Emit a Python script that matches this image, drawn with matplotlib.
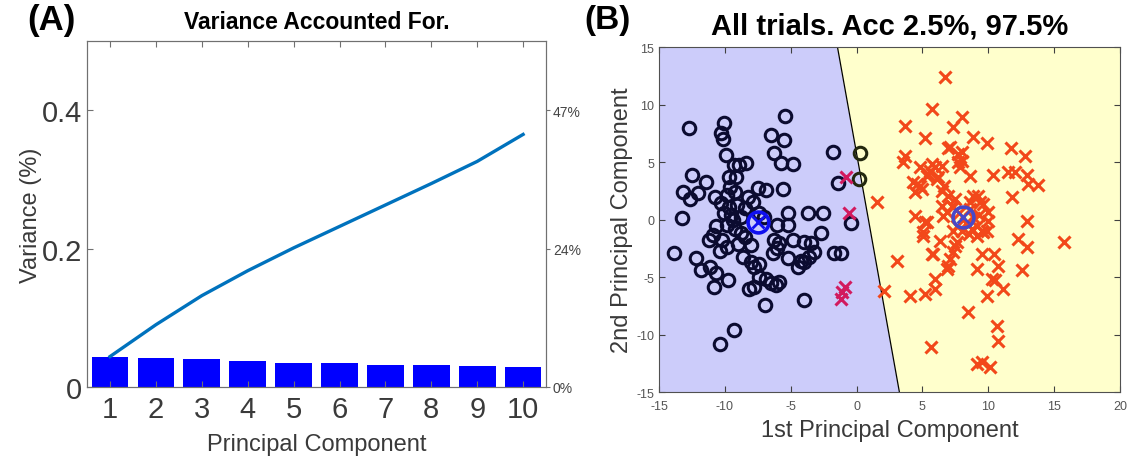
import numpy as np
import matplotlib
matplotlib.use("Agg")
import matplotlib.pyplot as plt

plt.rcParams["font.family"] = ["Liberation Sans", "DejaVu Sans"]
plt.rcParams["axes.unicode_minus"] = False

# Panel A: variance per principal component
components = [1, 2, 3, 4, 5, 6, 7, 8, 9, 10]
variance = [0.043, 0.042, 0.040, 0.037, 0.034, 0.034, 0.032, 0.032, 0.030, 0.029]
cumulative = [0.044, 0.090, 0.132, 0.168, 0.201, 0.232, 0.263, 0.294, 0.326, 0.365]
right_ticks = [0, 0.2, 0.4]
right_labels = ["0%", "24%", "47%"]

# Panel B: projections on first two PCs
circles = [
    (-12.72, 7.94), (-10.05, 8.38), (-10.3, 7.5), (-10.13, 6.98), (-9.92, 5.62), (-9.29, 4.75),
    (-8.4, 4.9), (-8.9, 4.7), (-9.67, 3.73), (-9.16, 3.67), (-12.46, 3.88), (-11.45, 3.3),
    (-13.15, 2.42), (-12.64, 1.76), (-12.03, 2.28), (-10.76, 1.99), (-9.6, 2.86), (-9.24, 2.42),
    (-9.8, 2.13), (-13.22, 0.1), (-13.86, -2.89), (-12.2, -3.38), (-11.8, -4.4), (-11.14, -4.11),
    (-10.68, -4.69), (-10.8, -5.85), (-9.75, -5.27), (-8.15, -6.0), (-9.34, -9.63), (-10.36, -10.8),
    (-7.5, 2.7), (-6.88, 2.57), (-5.6, 2.63), (-6.5, 7.36), (-5.48, 6.93), (-5.43, 9.0),
    (-6.24, 5.76), (-5.74, 4.9), (-4.85, 4.83), (-1.8, 5.9), (-1.42, 3.15), (-5.23, 0.54),
    (-3.7, 0.54), (-2.56, 0.54), (-0.46, -0.34), (-6.04, -0.48), (-5.23, -0.48), (-2.69, -1.2),
    (-4.85, -1.79), (-3.96, -1.93), (-3.45, -2.08), (-3.2, -2.8), (-6.04, -2.51), (-6.37, -2.95),
    (-5.23, -3.38), (-4.47, -4.11), (-3.96, -3.67), (-3.58, -3.24), (-1.68, -2.95), (-1.17, -2.95),
    (-3.96, -7.0), (-6.95, -7.45), (-7.77, -5.85), (-7.39, -4.98), (-6.88, -5.2), (-6.5, -5.56),
    (-6.12, -5.7), (-7.77, -4.11), (-8.0, -3.7), (-7.39, -3.88), (-8.65, -3.24), (-8.0, -2.2),
    (-8.5, -1.5), (-9.2, -0.8), (-9.8, -0.5), (-9.4, -0.05), (-10.7, -0.6), (-10.9, -1.35),
    (-11.2, -1.8), (-10.2, -1.8), (-10.4, -2.7), (-9.8, -2.4), (-9.0, -2.1), (-8.8, -1.2),
    (-9.67, 1.12), (-9.04, 1.26), (-8.5, 0.97), (-7.9, 1.55), (-10.05, 0.54), (-9.5, 0.4),
    (-8.8, 0.25), (-8.27, 1.99), (-10.3, 1.4), (-7.4, 0.54), (-7.0, 0.25), (-6.24, -1.79),
    (-5.86, -2.08), (-4.2, -3.6), (-5.9, -5.4),
]
stray_circles = [(0.23, 5.76), (0.15, 3.5)]
crosses = [
    (6.7, 12.37), (5.7, 9.6), (7.98, 8.89), (7.35, 8.02), (3.68, 8.1), (5.2, 7.06), (8.87, 7.15),
    (6.97, 6.19), (7.98, 5.85), (3.68, 5.55), (3.55, 4.97), (7.73, 4.97), (8.61, 3.82),
    (5.96, 4.54), (6.46, 4.68), (5.45, 3.96), (6.2, 3.67), (4.56, 3.09), (4.94, 2.66),
    (4.44, 2.37), (6.6, 2.95), (6.97, 2.08), (1.53, 1.5), (4.44, 0.34), (5.2, -0.24),
    (5.07, -1.11), (6.46, 1.21), (7.22, 1.21), (7.47, 1.79), (8.87, 2.08), (5.7, -3.0),
    (6.33, -1.83), (6.97, -4.01), (7.35, -2.85), (7.47, -2.27), (3.04, -3.58), (2.11, -6.18),
    (4.06, -6.62), (5.2, -6.47), (5.96, -6.04), (5.96, -5.17), (8.49, -8.07), (5.65, -11.1),
    (9.12, -12.56), (9.89, 6.63), (11.73, 6.19), (12.8, 5.55), (10.32, 3.87), (11.53, 4.16),
    (12.04, 4.16), (12.92, 3.87), (13.05, 3.09), (13.8, 3.0), (11.78, 1.99), (12.92, -0.1),
    (12.29, -1.69), (12.92, -2.42), (15.78, -1.92), (12.54, -4.36), (9.25, 2.08), (9.38, 1.5),
    (10.0, -0.1), (9.5, -0.97), (9.13, -1.4), (10.4, -3.0), (9.5, -3.0), (10.77, -4.01),
    (10.27, -5.17), (10.5, -5.3), (11.15, -6.04), (9.89, -6.68), (10.65, -9.23), (10.77, -10.53),
    (9.5, -12.41), (10.14, -12.85), (9.13, -4.3), (8.6, 1.5), (9.63, 1.35), (10.0, 0.63),
    (9.12, -0.53), (9.63, -1.11), (9.88, -0.97), (8.74, -0.82), (7.6, -0.53), (7.35, -0.97),
    (6.84, 0.63), (6.59, 0.34), (6.46, 2.51), (7.35, 1.06), (7.6, -1.98), (7.1, -3.43),
    (6.84, -4.3), (5.83, -3.0), (5.32, -0.24), (5.07, -1.4), (4.82, 4.54), (5.7, 4.83),
    (5.58, 4.25), (4.31, 3.24), (4.82, 2.95), (5.32, 3.82), (6.08, 3.53), (7.73, 5.7),
    (7.98, 5.12), (7.85, 4.54), (7.1, 6.28), (8.3, -0.3), (8.9, 0.1), (8.0, -1.0), (8.5, -1.3),
    (9.3, 0.4), (7.8, 0.6), (8.6, 0.9),
]
missed_crosses = [(-0.79, 3.73), (-0.6, 0.54), (-0.86, -5.85), (-1.1, -6.3), (-1.17, -6.87)]
centroids = [(-7.5, -0.2), (8.1, 0.2)]
boundary_x = [-1.45, 3.25]
boundary_y = [15, -15]

fig = plt.figure(figsize=(11.35, 4.64), dpi=100)

# ---- (A) ----
ax = fig.add_axes([0.0767, 0.1638, 0.4044, 0.7457])
ax.bar(components, variance, width=0.8, color="#0000ff")
ax.plot(components, cumulative, color="#0072bd", lw=2.4)
ax.set_xlim(0.5, 10.5)
ax.set_ylim(0, 0.5)
ax.set_xticks(components)
ax.set_yticks([0, 0.2, 0.4])
ax.set_yticklabels(["0", "0.2", "0.4"])
ax.tick_params(axis="both", direction="in", length=4, colors="#3a3a3a",
               labelsize=21, top=True, color="#707070")
ax.tick_params(axis="x", pad=6)
for s in ax.spines.values():
    s.set_color("#707070")
ax.set_xlabel("Principal Component", fontsize=17, color="#3a3a3a", labelpad=7)
ax.set_ylabel("Variance (%)", fontsize=17, color="#3a3a3a", labelpad=0)
ax.set_title("Variance Accounted For.", fontsize=16.5, fontweight="bold", pad=9)

ax2 = ax.twinx()
ax2.set_ylim(0, 0.5)
ax2.set_yticks(right_ticks)
ax2.set_yticklabels(right_labels)
ax2.tick_params(axis="y", direction="out", length=3, labelsize=10,
                colors="#444444", color="#707070", pad=2)
for s in ax2.spines.values():
    s.set_color("#707070")

fig.text(0.024, 0.955, "(A)", fontsize=25, fontweight="bold", va="center")

# ---- (B) ----
bx = fig.add_axes([0.5806, 0.1530, 0.4062, 0.7435])
bx.set_xlim(-15, 20)
bx.set_ylim(-15, 15)
bx.fill([-15, boundary_x[0], boundary_x[1], -15], [15, 15, -15, -15],
        color="#ccccfa", lw=0, zorder=0)
bx.fill([boundary_x[0], 20, 20, boundary_x[1]], [15, 15, -15, -15],
        color="#ffffcc", lw=0, zorder=0)
bx.plot(boundary_x, boundary_y, color="black", lw=0.9, zorder=1)

cx, cy = zip(*circles)
bx.plot(cx, cy, "o", ms=9, mfc="none", mec="#0b0b30", mew=2.2, zorder=2)
sx, sy = zip(*stray_circles)
bx.plot(sx, sy, "o", ms=9, mfc="none", mec="#23280f", mew=2.2, zorder=2)
xx, xy = zip(*crosses)
bx.plot(xx, xy, "x", ms=9, mec="#f2481a", mew=2.2, zorder=2)
mx, my = zip(*missed_crosses)
bx.plot(mx, my, "x", ms=9, mec="#d21a5e", mew=2.2, zorder=2)
for (gx, gy), col in zip(centroids, ["#1010f0", "#4848c8"]):
    bx.plot(gx, gy, "o", ms=15, mfc="none", mec=col, mew=2.6, zorder=3)
    bx.plot(gx, gy, "x", ms=9, mec=col, mew=2.0, zorder=3)

bx.set_xticks(np.arange(-15, 21, 5))
bx.set_yticks(np.arange(-15, 16, 5))
bx.tick_params(axis="both", direction="in", length=4, labelsize=9,
               colors="#555555", color="#404040", top=True, right=True)
bx.tick_params(axis="x", pad=6)
for s in bx.spines.values():
    s.set_color("#505050")
bx.set_xlabel("1st Principal Component", fontsize=17, color="#3a3a3a", labelpad=5)
bx.set_ylabel("2nd Principal Component", fontsize=17, color="#3a3a3a", labelpad=2)
bx.set_title("All trials. Acc 2.5%, 97.5%", fontsize=21, fontweight="bold", pad=10)

fig.text(0.515, 0.955, "(B)", fontsize=24, fontweight="bold", va="center")

fig.savefig("out.png", dpi=100)
